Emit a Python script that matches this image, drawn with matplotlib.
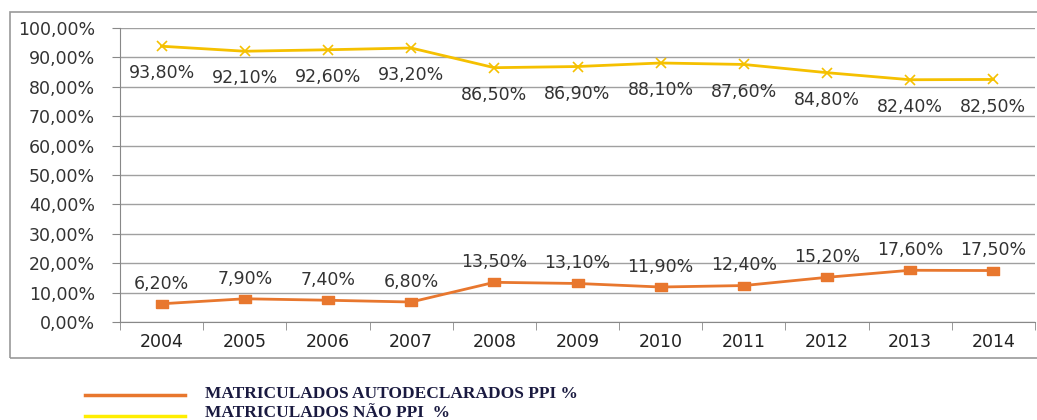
import matplotlib
matplotlib.use("Agg")
import matplotlib.pyplot as plt
from matplotlib.lines import Line2D
from matplotlib.patches import Rectangle

years = ["2004", "2005", "2006", "2007", "2008", "2009", "2010", "2011", "2012", "2013", "2014"]
ppi = [6.2, 7.9, 7.4, 6.8, 13.5, 13.1, 11.9, 12.4, 15.2, 17.6, 17.5]
nao_ppi = [93.8, 92.1, 92.6, 93.2, 86.5, 86.9, 88.1, 87.6, 84.8, 82.4, 82.5]
yticks = [0, 10, 20, 30, 40, 50, 60, 70, 80, 90, 100]
legend_labels = ["MATRICULADOS AUTODECLARADOS PPI %", "MATRICULADOS NÃO PPI  %"]

W, H = 1037, 420
fig = plt.figure(figsize=(W / 100, H / 100), dpi=100)
ax = fig.add_axes([120 / W, 1 - 322 / H, 915 / W, 294 / H])

orange = "#E8772E"
gold = "#F5C000"
x = list(range(len(years)))
rect_marker = [(-1.5, -1), (1.5, -1), (1.5, 1), (-1.5, 1), (-1.5, -1)]

ax.plot(x, nao_ppi, color=gold, lw=2, marker="x", ms=7, mew=1.2, zorder=3)
ax.plot(x, ppi, color=orange, lw=2, marker=rect_marker, ms=9, zorder=3)

def fmt(v):
    return f"{v:.2f}".replace(".", ",") + "%"

lab_kw = dict(fontsize=12.5, color="#333333")
for i, v in enumerate(nao_ppi):
    ax.annotate(fmt(v), (i, v), xytext=(0, -13), textcoords="offset points",
                ha="center", va="top", **lab_kw)
for i, v in enumerate(ppi):
    ax.annotate(fmt(v), (i, v), xytext=(0, 8), textcoords="offset points",
                ha="center", va="bottom", **lab_kw)

ax.set_xlim(-0.5, len(years) - 0.5)
ax.set_ylim(0, 100)
ax.set_yticks(yticks)
ax.set_yticklabels([fmt(t) for t in yticks], fontsize=12.5, color="#333333")
ax.set_xticks(x)
ax.set_xticklabels(years, fontsize=12.5, color="#222222")
ax.set_xticks([i + 0.5 for i in range(-1, len(years))], minor=True)
ax.tick_params(axis="x", which="major", length=0, pad=8)
ax.tick_params(axis="x", which="minor", length=6, color="#888888")
ax.tick_params(axis="y", length=6, color="#888888", pad=12)
ax.grid(axis="y", color="#A0A0A0", lw=1)
ax.set_axisbelow(True)
for s in ["top", "right"]:
    ax.spines[s].set_visible(False)
for s in ["left", "bottom"]:
    ax.spines[s].set_color("#888888")

fig.patches.append(Rectangle((10 / W, 1 - 358 / H), 1.1, (358 - 12) / H,
                             transform=fig.transFigure, fill=False,
                             edgecolor="#999999", lw=1.2))

for ly, ty, c, lab in [(395, 394, orange, legend_labels[0]),
                       (416, 413, "#FFEE00", legend_labels[1])]:
    fig.add_artist(Line2D([85 / W, 185 / W], [1 - ly / H, 1 - ly / H], color=c, lw=2.5,
                          transform=fig.transFigure))
    fig.text(205 / W, 1 - ty / H, lab, family="Liberation Serif", weight="bold",
             fontsize=12.5, color="#1a1a40", va="center", ha="left")

fig.savefig("out.png", dpi=100)
